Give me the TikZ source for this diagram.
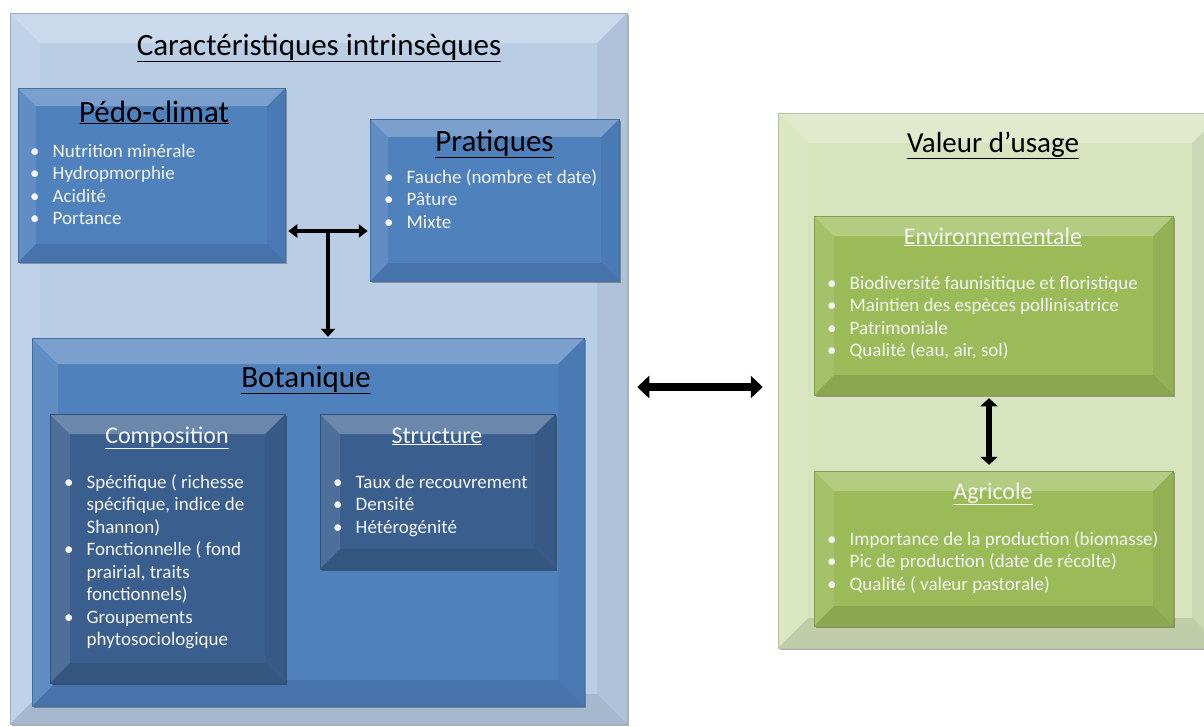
\documentclass[tikz,border=0pt]{standalone}
\usepackage{fontspec}
\setmainfont{Carlito}
\usetikzlibrary{arrows.meta,shadows}

\definecolor{paleblue}{HTML}{B9CDE5}
\definecolor{midblue}{HTML}{4F81BD}
\definecolor{darkblue}{HTML}{3A5F8E}
\definecolor{palegreen}{HTML}{D7E4BD}
\definecolor{midgreen}{HTML}{9BBB59}
\definecolor{softwhite}{HTML}{F4F4F4}

\newcommand{\ppb}{path picture bounding box}
\newcommand{\itm}{\makebox[22.5pt][l]{\textbullet}}
\newcommand{\cont}{\hspace*{22.5pt}}

\tikzset{
  panel/.style={draw=#1!85!black, line width=0.5pt, fill=#1, inner sep=0pt,
    drop shadow={shadow xshift=2pt, shadow yshift=-2pt, opacity=.3, fill=black}},
  bevel/.style={path picture={
    \fill[white,fill opacity=.25] (\ppb.north west) -- (\ppb.north east)
      -- ([shift={(-#1,#1)}]\ppb.north east) -- ([shift={(#1,#1)}]\ppb.north west) -- cycle;
    \fill[white,fill opacity=.1] (\ppb.north west) -- ([shift={(#1,#1)}]\ppb.north west)
      -- ([shift={(#1,-#1)}]\ppb.south west) -- (\ppb.south west) -- cycle;
    \fill[black,fill opacity=.05] (\ppb.north east) -- ([shift={(-#1,#1)}]\ppb.north east)
      -- ([shift={(-#1,-#1)}]\ppb.south east) -- (\ppb.south east) -- cycle;
    \fill[black,fill opacity=.1] (\ppb.south west) -- ([shift={(#1,-#1)}]\ppb.south west)
      -- ([shift={(-#1,-#1)}]\ppb.south east) -- (\ppb.south east) -- cycle;
  }},
  bigtitle/.style={font=\fontsize{31}{37}\selectfont, anchor=base, inner sep=0pt},
  subtitle/.style={font=\fontsize{24}{29}\selectfont, text=softwhite, anchor=base, inner sep=0pt},
  items/.style={font=\fontsize{19}{22.5}\selectfont, text=softwhite, anchor=base west, inner sep=0pt},
  link/.style={draw=black, line width=#1},
}

\begin{document}
\begin{tikzpicture}[x=1pt,y=-1pt]
\useasboundingbox (0,0) rectangle (1204,726);

% outer panels
\node[panel=paleblue, bevel=30, minimum width=617, minimum height=711] (intr) at (318.5,368.5) {};
\node[panel=palegreen, bevel=30, minimum width=444, minimum height=535] (usage) at (1000,380.5) {};

% left side boxes
\node[panel=midblue, bevel=18, minimum width=267, minimum height=174] (pedo) at (151.5,175) {};
\node[panel=midblue, bevel=18, minimum width=249, minimum height=162] (prat) at (494.5,200) {};
\node[panel=midblue, bevel=26, minimum width=552, minimum height=368] (bota) at (308,522) {};
\node[panel=darkblue, bevel=20, minimum width=235, minimum height=269] (comp) at (167.5,548.5) {};
\node[panel=darkblue, bevel=20, minimum width=235, minimum height=155] (struc) at (437.5,491.5) {};

% right side boxes
\node[panel=midgreen, bevel=20, minimum width=359, minimum height=179] (env) at (993.5,305.5) {};
\node[panel=midgreen, bevel=20, minimum width=359, minimum height=155] (agri) at (993.5,548.5) {};

% titles
\node[bigtitle] (intrtitle) at (319,55) {\underline{Caractéristiques intrinsèques}};
\node[bigtitle] (pedotitle) at (154,122) {\underline{Pédo-climat}};
\node[bigtitle] (prattitle) at (494.5,151) {\underline{Pratiques}};
\node[bigtitle] (botatitle) at (306,387) {\underline{Botanique}};
\node[subtitle] (comptitle) at (167,443) {\underline{Composition}};
\node[subtitle] (structitle) at (437,443) {\underline{Structure}};
\node[bigtitle, font=\fontsize{29}{35}\selectfont] (usagetitle) at (993,152) {\underline{Valeur d’usage}};
\node[subtitle] (envtitle) at (993,244) {\underline{Environnementale}};
\node[subtitle] (agrititle) at (993,499) {\underline{Agricole}};

% item lists
\node[items] (pedolist) at (30,157) {\begin{tabular}[t]{@{}l@{}}
\itm Nutrition minérale\\ \itm Hydropmorphie\\ \itm Acidité\\ \itm Portance
\end{tabular}};
\node[items] (pratlist) at (384,183) {\begin{tabular}[t]{@{}l@{}}
\itm Fauche (nombre et date)\\ \itm Pâture\\ \itm Mixte
\end{tabular}};
\node[items] (complist) at (64,488) {\begin{tabular}[t]{@{}l@{}}
\itm Spécifique ( richesse\\ \cont spécifique, indice de\\ \cont Shannon)\\
\itm Fonctionnelle ( fond\\ \cont prairial, traits\\ \cont fonctionnels)\\
\itm Groupements\\ \cont phytosociologique
\end{tabular}};
\node[items] (struclist) at (333,488) {\begin{tabular}[t]{@{}l@{}}
\itm Taux de recouvrement\\ \itm Densité\\ \itm Hétérogénité
\end{tabular}};
\node[items] (envlist) at (827,289) {\begin{tabular}[t]{@{}l@{}}
\itm Biodiversité faunisitique et floristique\\ \itm Maintien des espèces pollinisatrice\\
\itm Patrimoniale\\ \itm Qualité (eau, air, sol)
\end{tabular}};
\node[items] (agrilist) at (827,545) {\begin{tabular}[t]{@{}l@{}}
\itm Importance de la production (biomasse)\\ \itm Pic de production (date de récolte)\\
\itm Qualité ( valeur pastorale)
\end{tabular}};

% connectors
\coordinate (hub) at (328,231);
\coordinate (bridge) at (700,387);
\path[link=4pt, {Triangle[width=13pt,length=9pt]}-{Triangle[width=13pt,length=9pt]},
  shorten <=3pt, shorten >=2pt] (pedo.east |- hub) -- (prat.west |- hub);
\path[link=4pt, -{Triangle[width=14pt,length=8pt]}, shorten >=1pt] (hub) -- (hub |- bota.north);
\path[link=8pt, {Triangle[width=22pt,length=12pt]}-{Triangle[width=22pt,length=12pt]},
  shorten <=10pt, shorten >=15pt] (intr.east |- bridge) -- (usage.west |- bridge);
\path[link=6pt, {Triangle[width=17pt,length=8pt]}-{Triangle[width=17pt,length=8pt]},
  shorten <=3pt, shorten >=6pt] ([xshift=-4.5pt]env.south) -- ([xshift=-4.5pt]agri.north);
\end{tikzpicture}
\end{document}
